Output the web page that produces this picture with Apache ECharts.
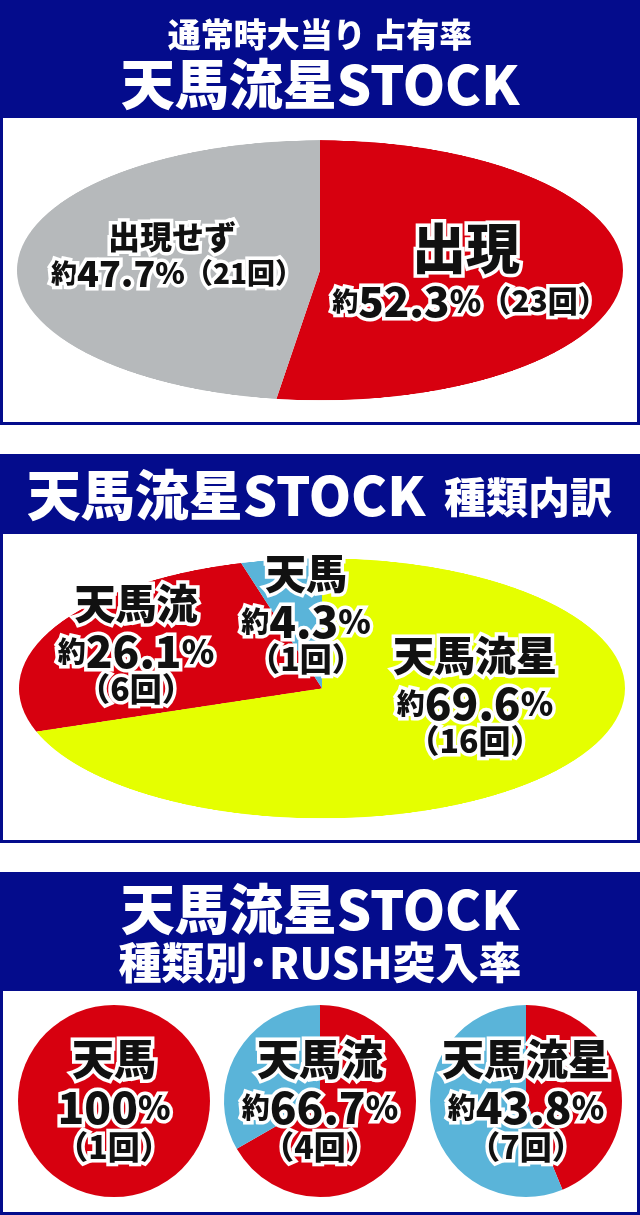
<!doctype html>
<html>
    <head>
        <meta charset="utf-8">
        <title>天馬流星STOCK 占有率</title>
        <style>
            html, body { margin: 0; padding: 0; background: #fff; overflow: hidden; }
            #page { position: relative; width: 640px; height: 1215px; overflow: hidden; }
            #base, #labels { position: absolute; left: 0; top: 0; width: 640px; height: 1215px; }
            #labels { pointer-events: none; }
            .oval { position: absolute; left: 0; width: 640px; height: 640px; transform-origin: 0 0; }
        </style>
    </head>
    <body>
        <div id="page">
            <div id="base"></div>
            <div id="oval1" class="oval"></div>
            <div id="oval2" class="oval"></div>
            <div id="labels"></div>
        </div>
        <script src="https://cdn.jsdelivr.net/npm/echarts@6/dist/echarts.min.js"></script>
        <script>
            // 通常時大当り 占有率
            var occurNames = ['出現', '出現せず'];
            var occurRates = [52.3, 47.7];
            var occurCounts = [23, 21];

            // 天馬流星STOCK 種類内訳
            var typeNames = ['天馬流星', '天馬流', '天馬'];
            var typeRates = [69.6, 26.1, 4.3];
            var typeCounts = [16, 6, 1];

            // 種類別・RUSH突入率
            var rushNames = ['天馬', '天馬流', '天馬流星'];
            var rushRates = [100, 66.7, 43.8];
            var rushCounts = [1, 4, 7];

            var NAVY = '#040c8c';
            var RED = '#d7000f';
            var GRAY = '#b6b9bb';
            var YELLOW = '#e5ff00';
            var BLUE = '#5ab4d9';
            var FONT = '"Noto Sans CJK JP", "Noto Sans CJK SC", sans-serif';

            // pies are drawn round and squashed into ovals with css
            var OVAL_R = 303;
            var OVAL_SCALE = 130 / OVAL_R;
            var ovalCenters = [270, 688];

            function pieSeries(data, center, radius, colors) {
                return {
                    type: 'pie',
                    center: center,
                    radius: radius,
                    startAngle: 90,
                    clockwise: true,
                    silent: true,
                    label: { show: false },
                    labelLine: { show: false },
                    emphasis: { disabled: true },
                    itemStyle: { borderWidth: 0 },
                    color: colors,
                    data: data
                };
            }

            function toData(names, values) {
                return names.map(function (n, i) {
                    return { name: n, value: values[i] };
                });
            }

            // text helpers
            function txt(x, y, text, rich, extra) {
                var style = {
                    text: text,
                    x: 0, y: 0,
                    align: 'center',
                    verticalAlign: 'middle',
                    fill: '#111',
                    stroke: '#fff',
                    lineWidth: 7,
                    lineJoin: 'round',
                    fontFamily: FONT,
                    fontWeight: 900,
                    rich: rich
                };
                for (var k in extra) { style[k] = extra[k]; }
                return { type: 'text', x: x, y: y, z: 100, style: style };
            }

            function richSet(name, s, n, p, c) {
                function f(size) {
                    return { fontSize: size, fontFamily: FONT, fontWeight: 900 };
                }
                return { name: f(name), s: f(s), n: f(n), p: f(p), c: f(c) };
            }

            function rateText(r) {
                return (r < 100 ? '{s|約}' : '') + '{n|' + r + '}{p|%}';
            }
            function countText(c) {
                return '{c|（' + c + '回）}';
            }

            function head(x, y, text, size) {
                return txt(x, y, text, null, { fill: '#fff', stroke: null, lineWidth: 0, fontSize: size });
            }

            // ---------- base: frames, headers, round pies ----------
            var base = echarts.init(document.getElementById('base'));

            base.setOption({
                animation: false,
                graphic: [
                    { type: 'rect', shape: { x: 0, y: 0, width: 640, height: 425 }, style: { fill: NAVY } },
                    { type: 'rect', shape: { x: 3, y: 118, width: 634, height: 304 }, style: { fill: '#fff' } },
                    { type: 'rect', shape: { x: 0, y: 454, width: 640, height: 389 }, style: { fill: NAVY } },
                    { type: 'rect', shape: { x: 3, y: 534, width: 634, height: 306 }, style: { fill: '#fff' } },
                    { type: 'rect', shape: { x: 0, y: 872, width: 640, height: 343 }, style: { fill: NAVY } },
                    { type: 'rect', shape: { x: 3, y: 991, width: 634, height: 221 }, style: { fill: '#fff' } },

                    head(320, 34, '通常時大当り 占有率', 33),
                    head(320, 84, '天馬流星STOCK', 54),
                    head(226, 495, '天馬流星STOCK', 54),
                    head(528, 497, '種類内訳', 42),
                    head(320, 909, '天馬流星STOCK', 54),
                    head(320, 963, '種類別･RUSH突入率', 43)
                ],
                series: rushRates.map(function (r, i) {
                    return pieSeries(
                        [{ name: 'RUSH', value: r }, { name: '', value: 100 - r }],
                        [114 + i * 206, 1101], 96, [RED, BLUE]
                    );
                })
            });

            // ---------- oval pies ----------
            var ovalDivs = ['oval1', 'oval2'];
            var ovalOpts = [
                pieSeries(toData(occurNames, occurRates), [320, 320], OVAL_R, [RED, GRAY]),
                pieSeries(toData(typeNames, typeRates), [322, 320], OVAL_R, [YELLOW, RED, BLUE])
            ];
            ovalDivs.forEach(function (id, i) {
                var el = document.getElementById(id);
                el.style.top = (ovalCenters[i] - 320 * OVAL_SCALE) + 'px';
                el.style.transform = 'scaleY(' + OVAL_SCALE + ')';
                var c = echarts.init(el);
                c.setOption({ animation: false, series: [ovalOpts[i]] });
            });

            // ---------- labels on top ----------
            var labels = echarts.init(document.getElementById('labels'));
            var g = [];

            // panel 1
            var big = richSet(54, 26, 42, 32, 30);
            var small = richSet(32, 26, 36, 30, 28);
            g.push(txt(466, 248, '{name|' + occurNames[0] + '}', big));
            g.push(txt(470, 301, rateText(occurRates[0]) + countText(occurCounts[0]), big));
            g.push(txt(172, 237, '{name|' + occurNames[1] + '}', small));
            g.push(txt(177, 273, rateText(occurRates[1]) + countText(occurCounts[1]), small));

            // panel 2
            var mid = richSet(41, 28, 44, 33, 32);
            var typePos = [[475, 655], [136, 603], [306, 573]];
            typeNames.forEach(function (n, i) {
                var p = typePos[i];
                g.push(txt(p[0], p[1], '{name|' + n + '}', mid));
                g.push(txt(p[0], p[1] + 48, rateText(typeRates[i]), mid));
                g.push(txt(p[0], p[1] + 86, countText(typeCounts[i]), mid));
            });

            // panel 3
            var rush = richSet(42, 28, 44, 33, 32);
            rushNames.forEach(function (n, i) {
                var x = 114 + i * 206;
                g.push(txt(x, 1059, '{name|' + n + '}', rush));
                g.push(txt(x, 1107, rateText(rushRates[i]), rush));
                g.push(txt(x, 1147, countText(rushCounts[i]), rush));
            });

            labels.setOption({ animation: false, graphic: g });
        </script>
    </body>
</html>
